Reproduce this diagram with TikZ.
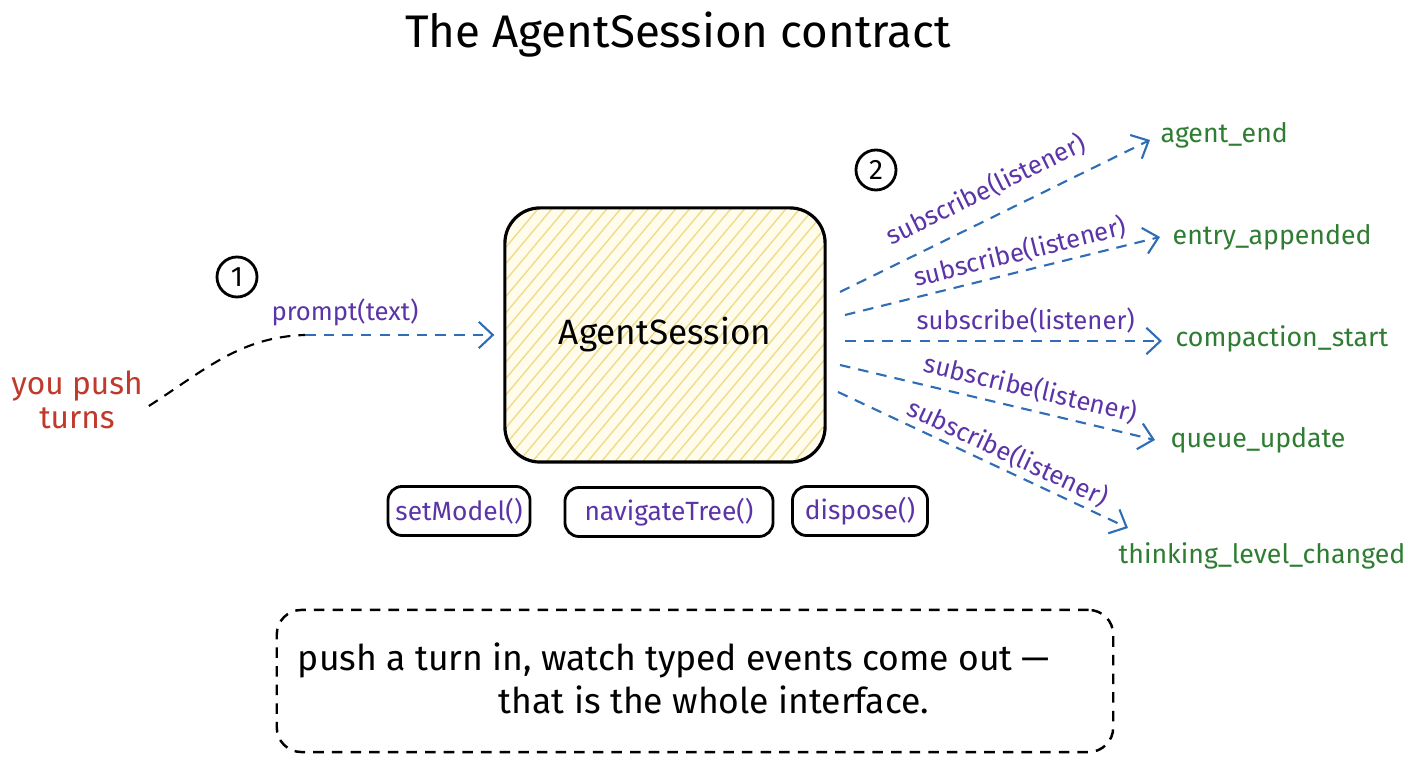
\documentclass[tikz,border=0pt]{standalone}
\usepackage{fontspec}
\setmainfont{Fira Sans}
\usetikzlibrary{arrows.meta,patterns.meta,calc}
\definecolor{purp}{HTML}{5B34A8}
\definecolor{redt}{HTML}{C0392B}
\definecolor{greent}{HTML}{2E7D32}
\definecolor{bluea}{HTML}{2F6EB5}
\definecolor{yfill}{HTML}{FFFCEB}
\definecolor{yhatch}{HTML}{EEDC8A}
\begin{document}
\begin{tikzpicture}[x=0.01cm,y=-0.01cm,
  arr/.style={draw=bluea, line width=0.6pt, dash pattern=on 3pt off 2.3pt,
    -{Straight Barb[length=4pt,width=7.5pt,line width=0.6pt]}},
  lbl/.style={text=purp, font=\fontsize{7.3}{8}\selectfont, inner sep=0pt},
  event/.style={text=greent, font=\fontsize{7.6}{9}\selectfont, inner sep=0pt, anchor=west},
  method/.style={draw, line width=0.8pt, rounded corners=4pt, minimum height=0.49cm,
    text=purp, font=\fontsize{7.5}{8}\selectfont, inner sep=2pt},
  numc/.style={draw, circle, line width=0.8pt, minimum size=0.4cm, inner sep=0pt,
    font=\fontsize{8}{9}\selectfont}]
\useasboundingbox (0,0) rectangle (1408,768);
\fill[white] (0,0) rectangle (1408,768);

% title
\node (title) at (678,35) {\fontsize{13}{15}\selectfont The AgentSession contract};

% main box
\node[draw, line width=0.9pt, rounded corners=10pt, minimum width=3.2cm, minimum height=2.54cm,
  preaction={fill=yfill},
  pattern={Lines[angle=50,distance=3pt,line width=0.4pt]}, pattern color=yhatch] (box) at (665,335) {};
\node (boxt) at (box.center) {\fontsize{10}{12}\selectfont AgentSession};

% step markers
\node[numc] (n1) at (237,277) {1};
\node[numc] (n2) at (876,170) {2};

% left input
\node[text=redt, align=center, font=\fontsize{9}{9.6}\selectfont, inner sep=1pt] (you) at (77,400) {you push\\turns};
\coordinate (bend) at (305,335);
\draw[line width=0.6pt, dash pattern=on 3pt off 2.3pt] ($(you.east)+(2,6)$) .. controls (205,370) and (240,337) .. (bend);
\draw[arr, shorten >=2.8pt] (bend) -- (box.west);
\node[lbl] (plbl) at (345,312) {prompt(text)};

% method boxes
\node[method, minimum width=1.42cm] (m1) at (459,511) {setModel()};
\node[method, minimum width=2.08cm] (m2) at (669,512) {navigateTree()};
\node[method, minimum width=1.35cm] (m3) at (860,511) {dispose()};

% events
\node[event] (ev1) at (1160,135) {agent\_end};
\node[event] (ev2) at (1172,237) {entry\_appended};
\node[event] (ev3) at (1175,339) {compaction\_start};
\node[event] (ev4) at (1170,440) {queue\_update};
\node[event] (ev5) at (1118,556) {thinking\_level\_changed};

\coordinate (s1) at (840,292);
\coordinate (s2) at (845,315);
\coordinate (s3) at (845,341);
\coordinate (s4) at (840,365);
\coordinate (s5) at (838,392);

\draw[arr] (s1) -- ($(ev1.west)+(-10,5)$) node[lbl, pos=0.51, sloped, above=4pt] {subscribe(listener)};
\draw[arr] (s2) -- ($(ev2.west)+(-12,0)$) node[lbl, pos=0.57, sloped, above=1.5pt] {subscribe(listener)};
\draw[arr] (s3) -- ($(ev3.west)+(-13,2)$) node[lbl, pos=0.57, sloped, above=2pt] {subscribe(listener)};
\draw[arr] (s4) -- ($(ev4.west)+(-15,0)$) node[lbl, pos=0.59, sloped, above=2.2pt] {subscribe(listener)};
\draw[arr] (s5) -- ($(ev5.west)+(10,-28)$) node[lbl, pos=0.56, sloped, above=1pt] {subscribe(listener)};

% note
\node[draw, line width=0.7pt, dash pattern=on 3pt off 2.3pt, rounded corners=7pt,
  minimum width=8.36cm, minimum height=1.42cm] (note) at (695,681) {};
\node[font=\fontsize{10.1}{12}\selectfont] (note1) at (674,660) {push a turn in, watch typed events come out —};
\node[font=\fontsize{10.1}{12}\selectfont] (note2) at (714,700) {that is the whole interface.};
\end{tikzpicture}
\end{document}
